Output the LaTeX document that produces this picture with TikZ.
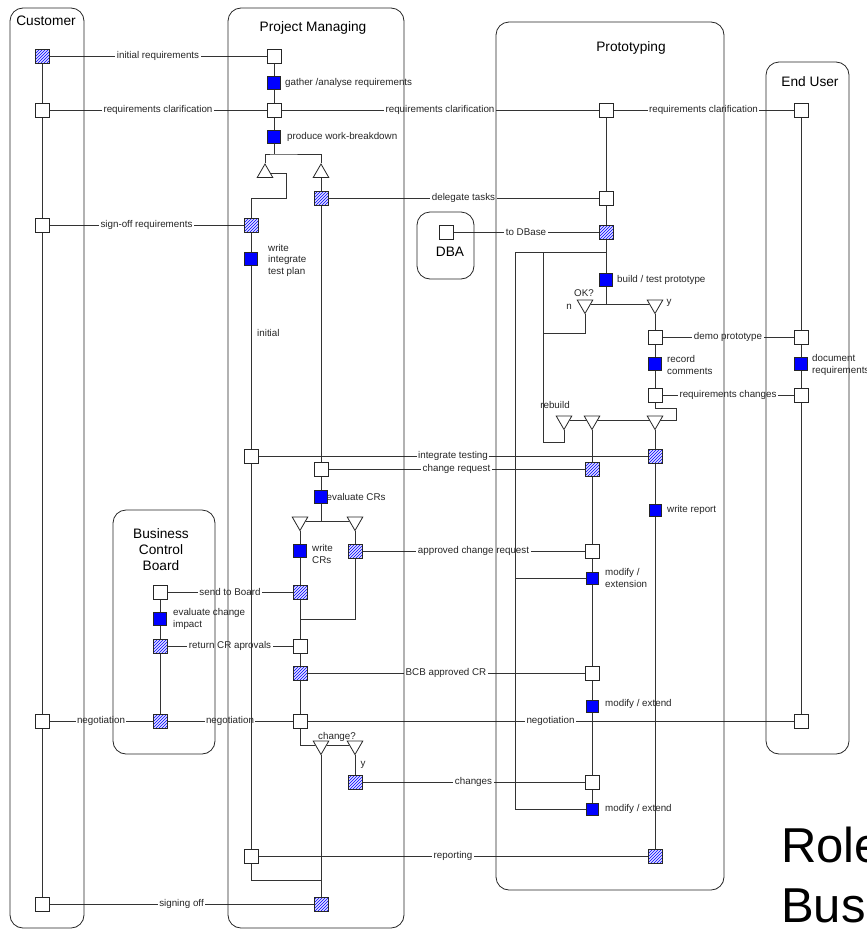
\documentclass[tikz,border=0pt]{standalone}
\usepackage{fontspec}
\setmainfont{Liberation Sans}
\usetikzlibrary{shapes.geometric,patterns,calc}
\pgfdeclarelayer{paper}
\pgfdeclarelayer{flows}
\pgfdeclarelayer{wires}
\pgfsetlayers{paper,flows,wires,main}

\tikzset{
  wire/.style={draw=black!80, line width=0.8pt},
  lane/.style={draw=black!85, line width=0.8pt, rounded corners=13pt},
  lanetitle/.style={font=\fontsize{13.7pt}{16.4pt}\selectfont, text=black, align=center, inner sep=0pt},
  tag/.style={font=\fontsize{9.8pt}{11.5pt}\selectfont, text=black!85, inner xsep=1.5pt, inner ysep=0.5pt, fill=white},
  note/.style={font=\fontsize{9.8pt}{11.5pt}\selectfont, text=black!85, inner sep=0pt, align=left},
  plain/.style={draw=black!85, line width=0.8pt, fill=white, minimum size=14pt, inner sep=0pt},
  hatched/.style={draw=black!85, line width=0.8pt, minimum size=14pt, inner sep=0pt,
    preaction={fill=blue!12}, pattern=north east lines, pattern color=blue},
  task/.style={draw=black!85, line width=0.8pt, fill=blue, minimum size=13pt, inner sep=0pt},
  gateup/.style={regular polygon, regular polygon sides=3, minimum size=18pt, inner sep=0pt,
    draw=black!85, line width=0.8pt, fill=white},
  gatedown/.style={gateup, shape border rotate=180},
}

\begin{document}
\begin{tikzpicture}[x=1pt, y=-1pt]
\useasboundingbox (0,0) rectangle (867,929);
\clip (0,0) rectangle (867,929);
\begin{pgfonlayer}{paper}
  \fill[white] (0,0) rectangle (867,929);
\end{pgfonlayer}

% ---------- Customer ----------
\node[hatched] (C1) at (42,56) {};
\node[plain]   (C2) at (42,110) {};
\node[plain]   (C3) at (42,225) {};
\node[plain]   (C4) at (42,721) {};
\node[plain]   (C5) at (42,904) {};

% ---------- Project Managing ----------
\node[plain]   (P1) at (274,56) {};
\node[task]    (P2) at (274,83) {};
\node[plain]   (P3) at (274,110) {};
\node[task]    (P4) at (274,137) {};
\node[gateup]  (T1) at (265,173) {};
\node[gateup]  (T2) at (321,173) {};
\node[hatched] (P6) at (321,198) {};
\node[hatched] (P5) at (251,225) {};
\node[task]    (P7) at (251,259) {};
\node[plain]   (P8) at (251,456) {};
\node[plain]   (P9) at (321,469) {};
\node[task]    (P10) at (321,497) {};
\node[gatedown] (T3) at (300,521.5) {};
\node[gatedown] (T4) at (355,521.5) {};
\node[task]    (P11) at (300,551) {};
\node[hatched] (P12) at (355,551) {};
\node[hatched] (P13) at (300,592) {};
\node[plain]   (P14) at (300,646) {};
\node[hatched] (P15) at (300,673) {};
\node[plain]   (P16) at (300,721) {};
\node[gatedown] (T5) at (321,745.5) {};
\node[gatedown] (T6) at (355,745.5) {};
\node[hatched] (P17) at (355,782) {};
\node[plain]   (P18) at (251,856) {};
\node[hatched] (P19) at (321,904) {};

% ---------- Business Control Board ----------
\node[plain]   (B1) at (160,592) {};
\node[task]    (B2) at (160,619) {};
\node[hatched] (B3) at (160,646) {};
\node[hatched] (B4) at (160,721) {};

% ---------- DBA ----------
\node[plain]   (D1) at (446,232) {};

% ---------- Prototyping ----------
\node[plain]   (R1) at (606,110) {};
\node[plain]   (R2) at (606,198) {};
\node[hatched] (R3) at (606,232) {};
\node[task]    (R4) at (606,280) {};
\node[gatedown] (T7) at (585,304.5) {};
\node[gatedown] (T8) at (655,304.5) {};
\node[plain]   (R5) at (655,337) {};
\node[task]    (R6) at (655,364) {};
\node[plain]   (R7) at (655,395) {};
\node[gatedown] (T9) at (564,420.5) {};
\node[gatedown] (T10) at (592,420.5) {};
\node[gatedown] (T11) at (655,420.5) {};
\node[hatched] (R8) at (655,456) {};
\node[task, minimum size=12pt] (R9) at (655,510) {};
\node[hatched] (R10) at (592,469) {};
\node[plain]   (R11) at (592,551) {};
\node[task, minimum size=12pt] (R12) at (592,578) {};
\node[plain]   (R13) at (592,673) {};
\node[task, minimum size=12pt] (R14) at (592,706) {};
\node[plain]   (R15) at (592,782) {};
\node[task, minimum size=12pt] (R16) at (592,809) {};
\node[hatched] (R17) at (655,856) {};

% ---------- End User ----------
\node[plain]   (E1) at (801,110) {};
\node[plain]   (E2) at (801,337) {};
\node[task]    (E3) at (801,364) {};
\node[plain]   (E4) at (801,395) {};
\node[plain]   (E5) at (801,721) {};

\coordinate (loopA) at (515,252);
\coordinate (loopB) at (543,252);

% ---------- messages between roles ----------
\begin{pgfonlayer}{flows}
  \draw[wire] (C1) -- node[tag] {initial requirements} (P1);
  \draw[wire] (C2) -- node[tag] {requirements clarification} (P3);
  \draw[wire] (P3) -- node[tag] {requirements clarification} (R1);
  \draw[wire] (R1) -- node[tag] {requirements clarification} (E1);
  \draw[wire] (C3) -- node[tag] {sign-off requirements} (P5);
  \draw[wire] (P6) -- node[tag] {delegate tasks} (R2);
  \draw[wire] (D1) -- node[tag] {to DBase} (R3);
  \draw[wire] (R5) -- node[tag] {demo prototype} (E2);
  \draw[wire] (R7) -- node[tag] {requirements changes} (E4);
  \draw[wire] (P8) -- node[tag] {integrate testing} (R8);
  \draw[wire] (P9) -- node[tag] {change request} (R10);
  \draw[wire] (P12) -- node[tag] {approved change request} (R11);
  \draw[wire] (B1) -- node[tag] {send to Board} (P13);
  \draw[wire] (B3) -- node[tag] {return CR aprovals} (P14);
  \draw[wire] (P15) -- node[tag] {BCB approved CR} (R13);
  \draw[wire] (C4) -- node[tag] {negotiation} (B4);
  \draw[wire] (B4) -- node[tag] {negotiation} (P16);
  \draw[wire] (P16) -- node[tag] {negotiation} (E5);
  \draw[wire] (P17) -- node[tag] {changes} (R15);
  \draw[wire] (P18) -- node[tag] {reporting} (R17);
  \draw[wire] (C5) -- node[tag] {signing off} (P19);

  % activity labels
  \node[note, anchor=west] (n1) at (285,83) {gather /analyse requirements};
  \node[note, anchor=west] (n2) at (287,137) {produce work-breakdown};
  \node[note, anchor=west] (n3) at (268,260) {write\\integrate\\test plan};
  \node[note, anchor=west] (n4) at (257,333) {initial};
  \node[note, anchor=west] (n5) at (326.5,497) {evaluate CRs};
  \node[note, anchor=west] (n6) at (312,554) {write\\CRs};
  \node[note, anchor=west] (n7) at (173,619) {evaluate change\\impact};
  \node[note] (n8) at (337,737) {change?};
  \node[note] (n9) at (363,765) {y};
  \node[note, anchor=west] (n10) at (617,280) {build / test prototype};
  \node[note] (n11) at (584,293) {OK?};
  \node[note] (n12) at (569,307) {n};
  \node[note] (n13) at (669,303) {y};
  \node[note, anchor=west] (n14) at (667,365) {record\\comments};
  \node[note, anchor=west] (n15) at (812,365) {document\\requirements};
  \node[note] (n16) at (555,405) {rebuild};
  \node[note, anchor=west] (n17) at (667,510) {write report};
  \node[note, anchor=west] (n18) at (605,578) {modify /\\extension};
  \node[note, anchor=west] (n19) at (605,704) {modify / extend};
  \node[note, anchor=west] (n20) at (605,809) {modify / extend};
\end{pgfonlayer}

% ---------- lanes and control flow ----------
\begin{pgfonlayer}{wires}
  \draw[lane] (10,8) rectangle (84,928);
  \draw[lane] (228,8) rectangle (404,928);
  \draw[lane] (496,22) rectangle (724,890);
  \draw[lane] (766,62) rectangle (849,754);
  \draw[lane] (417,212) rectangle (474,279);
  \draw[lane] (113,510) rectangle (215,754);

  % customer
  \draw[wire] (C1) -- (C5);
  % project managing
  \draw[wire] (P1) -- (P4);
  \coordinate (pm1) at (274,154);
  \draw[wire] (P4) -- (pm1);
  \draw[wire] (T1) |- (pm1) -| (T2);
  \draw[wire] (T1) -- ++(21,0) -- ++(0,25) -| (P5);
  \draw[wire] (T2) -- (P10);
  \draw[wire] (P5) -- (P18);
  \draw[wire] (P18) -- ++(0,24) -| (P19);
  \draw[wire] (P10) -- (P10 |- T3);
  \draw[wire] (T3) -- (T4);
  \draw[wire] (T3) -- (P16);
  \draw[wire] (T4) |- ($(P13)!0.5!(P14)$);
  \draw[wire] (P16) |- (T5) -- (T6);
  \draw[wire] (T6) -- (P17);
  \draw[wire] (T5) -- (P19);
  % business control board
  \draw[wire] (B1) -- (B4);
  % prototyping
  \draw[wire] (R1) -- (R1 |- T7);
  \draw[wire] (T7) -- (T8);
  \draw[wire] (R16) -| (loopA) -- (R3 |- loopA);
  \draw[wire] (R12) -- (R12 -| loopA);
  \draw[wire] (T9) -- ++(0,21.5) -| (loopB);
  \draw[wire] (T7) -- ++(0,28.5) -| (loopB);
  \draw[wire] (T8) -- (R7) -- ++(0,13) -- ++(21,0) |- (T9);
  \draw[wire] (T10) -- (R16);
  \draw[wire] (T11) -- (R17);
  % end user
  \draw[wire] (E1) -- (E5);
\end{pgfonlayer}

% ---------- lane titles ----------
\node[lanetitle] (h1) at (46,21) {Customer};
\node[lanetitle] (h2) at (313,28) {Project Managing};
\node[lanetitle] (h3) at (631,48) {Prototyping};
\node[lanetitle] (h4) at (810,82) {End User};
\node[lanetitle] (h5) at (450,252) {DBA};
\node[lanetitle, font=\fontsize{13.7pt}{16pt}\selectfont] (h6) at (161,550) {Business\\Control\\Board};

% ---------- heading ----------
\node[font=\fontsize{49pt}{59pt}\selectfont, anchor=base west, inner sep=0pt] (t1) at (781,862) {Role};
\node[font=\fontsize{49pt}{59pt}\selectfont, anchor=base west, inner sep=0pt] (t2) at (781,922) {Bus};
\end{tikzpicture}
\end{document}
